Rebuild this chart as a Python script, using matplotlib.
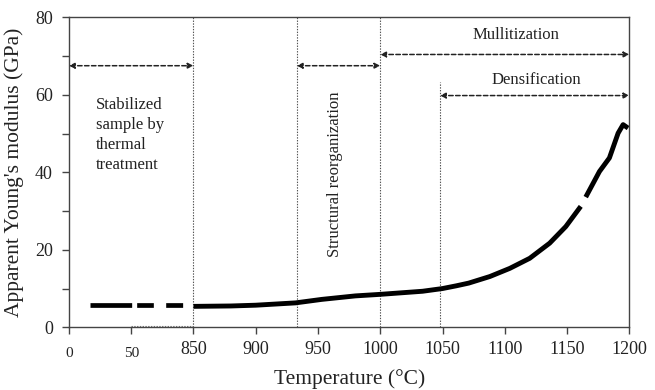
import matplotlib
matplotlib.use('Agg')
import matplotlib.pyplot as plt
import numpy as np

# dados
temp_rt = [17, 714]          # patamar inicial (tracejado, ate a quebra do eixo)
modulo_rt = [5.8, 5.8]

temp = [850, 880, 900, 932, 953, 980, 1000, 1034, 1050, 1061, 1071, 1088, 1104,
        1120, 1136, 1149, 1161, np.nan, 1165, 1176, 1184, 1191, 1195, 1199]
modulo = [5.4, 5.5, 5.7, 6.3, 7.2, 8.1, 8.5, 9.3, 10.0, 10.7, 11.4, 13.1, 15.2,
          17.8, 21.7, 26.0, 31.2, np.nan, 33.6, 40.2, 43.7, 50.1, 52.3, 51.4]

xticks = [0, 50, 850, 900, 950, 1000, 1050, 1100, 1150, 1200]
linhas_v = [850, 933, 1000, 1048]
topo_v = [80, 80, 80, 63.4]

# eixo x quebrado: 0-50 | 50-850 | 850-1200
def fwd(t):
    t = np.asarray(t, dtype=float)
    return np.where(t <= 50, t / 50, np.where(t < 850, 1 + (t - 50) / 800, 2 + (t - 850) / 50))

def inv(p):
    p = np.asarray(p, dtype=float)
    return np.where(p <= 1, p * 50, np.where(p < 2, 50 + (p - 1) * 800, 850 + (p - 2) * 50))

plt.rcParams['font.family'] = ['Liberation Serif', 'DejaVu Serif']
plt.rcParams['lines.scale_dashes'] = False
cor = '#222222'

fig = plt.figure(figsize=(6.55, 3.9), dpi=100)
ax = fig.add_axes([0.1053, 0.1608, 0.8555, 0.7949])
ax.set_xscale('function', functions=(fwd, inv))
ax.set_xlim(0, 1200)
ax.set_ylim(0, 80)

# linhas verticais pontilhadas
for xv, yt in zip(linhas_v, topo_v):
    ax.plot([xv, xv], [0, yt], color='#555555', lw=0.8, ls=(0, (1, 1)))
ax.plot([50, 850], [0.4, 0.4], color='#777777', lw=0.8, ls=(0, (1, 1)))

# dados
ax.plot(temp_rt, modulo_rt, color='black', lw=3.4,
        ls=(0, (30, 3.6, 12, 8.9, 12.2, 60)), dash_capstyle='butt')
ax.plot(temp, modulo, color='black', lw=3.5, solid_capstyle='butt')

# setas
def seta(x0, x1, y):
    ax.annotate('', xy=(x1, y), xytext=(x0, y),
                arrowprops=dict(arrowstyle='<|-|>', color=cor, lw=1.1,
                                ls=(0, (3.2, 1.8)), mutation_scale=8,
                                shrinkA=0, shrinkB=0))

seta(0, 850, 67.5)
seta(933, 1000, 67.5)
seta(1000, 1200, 70.4)
seta(1048, 1200, 59.8)

ax.text(22, 59.4, 'Stabilized\nsample by\nthermal\ntreatment', fontsize=12,
        color=cor, ha='left', va='top', linespacing=1.32)
ax.text(964, 39.4, 'Structural reorganization', fontsize=12, color=cor,
        rotation=90, ha='center', va='center')
ax.text(1109, 75.5, 'Mullitization', fontsize=12, color=cor, ha='center', va='center')
ax.text(1125.5, 63.7, 'Densification', fontsize=12, color=cor, ha='center', va='center')

# eixos
ax.set_xticks(xticks)
ax.set_xticklabels([str(v) for v in xticks])
ax.minorticks_off()
ax.set_yticks([0, 10, 20, 30, 40, 50, 60, 70, 80])
ax.set_yticklabels(['0', '', '20', '', '40', '', '60', '', '80'])
ax.tick_params(axis='both', direction='out', length=5, width=1, color='#444444',
               labelsize=13, labelcolor=cor)
ax.tick_params(axis='x', pad=5)
ax.tick_params(axis='y', pad=6.5)
for t in ax.xaxis.get_major_ticks()[:2]:
    t.set_pad(9)
    t.label1.set_fontsize(11)

for s in ax.spines.values():
    s.set_color('#444444')
    s.set_linewidth(1)

ax.set_ylabel("Apparent Young's modulus (GPa)", fontsize=15.5, color=cor)
ax.set_xlabel('Temperature (°C)', fontsize=15.5, color=cor)
ax.yaxis.set_label_coords(-0.08, 0.5)
ax.xaxis.set_label_coords(0.5, -0.135)

plt.savefig('out.png', dpi=100)
